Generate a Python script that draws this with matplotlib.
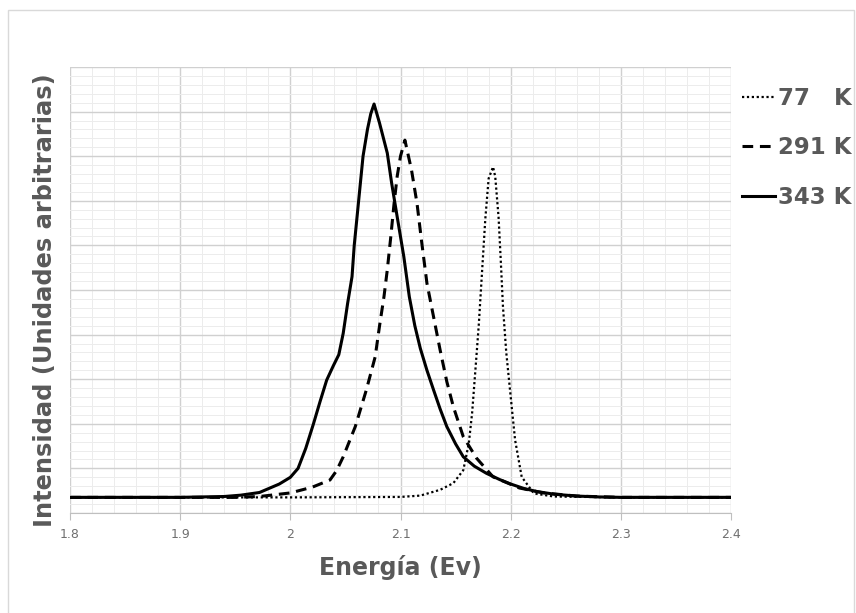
import matplotlib.pyplot as plt
from matplotlib.ticker import MultipleLocator, NullFormatter
from matplotlib.patches import Rectangle

# Espectros (energía en eV, intensidad arbitraria)
e_343 = [1.80, 1.90, 1.94, 1.955, 1.972, 1.99, 2.000, 2.007, 2.014, 2.021, 2.027, 2.033,
         2.039, 2.044, 2.048, 2.052, 2.056, 2.058, 2.062, 2.066, 2.070, 2.073, 2.076,
         2.081, 2.088, 2.092, 2.097, 2.103, 2.108, 2.113, 2.118, 2.124, 2.130, 2.136,
         2.142, 2.150, 2.157, 2.167, 2.178, 2.190, 2.200, 2.212, 2.224, 2.240, 2.260,
         2.280, 2.30, 2.40]
i_343 = [0.35, 0.35, 0.37, 0.40, 0.46, 0.65, 0.80, 1.00, 1.45, 2.00, 2.50, 2.98,
         3.30, 3.55, 4.03, 4.70, 5.30, 6.00, 7.00, 8.00, 8.60, 8.95, 9.17,
         8.74, 8.07, 7.39, 6.64, 5.75, 4.85, 4.20, 3.69, 3.20, 2.76, 2.33,
         1.94, 1.55, 1.26, 1.05, 0.89, 0.75, 0.65, 0.55, 0.48, 0.42, 0.38,
         0.36, 0.35, 0.35]

e_291 = [1.80, 1.95, 1.972, 2.000, 2.020, 2.036, 2.042, 2.048, 2.059, 2.069, 2.077, 2.081,
         2.085, 2.088, 2.091, 2.094, 2.097, 2.100, 2.104, 2.110, 2.115, 2.119, 2.124,
         2.130, 2.136, 2.142, 2.148, 2.157, 2.169, 2.184, 2.208, 2.230, 2.260, 2.30, 2.40]
i_291 = [0.35, 0.35, 0.37, 0.45, 0.58, 0.74, 0.95, 1.26, 1.94, 2.76, 3.50, 4.20,
         4.85, 5.45, 6.15, 6.90, 7.55, 8.00, 8.36, 7.69, 6.94, 6.12, 5.15,
         4.40, 3.65, 2.95, 2.38, 1.71, 1.23, 0.81, 0.56, 0.45, 0.38, 0.35, 0.35]

e_77 = [1.80, 2.00, 2.10, 2.118, 2.136, 2.148, 2.157, 2.162, 2.165, 2.168, 2.171, 2.174,
        2.177, 2.180, 2.184, 2.186, 2.189, 2.191, 2.193, 2.196, 2.200, 2.204, 2.210,
        2.221, 2.239, 2.30, 2.40]
i_77 = [0.35, 0.35, 0.36, 0.39, 0.52, 0.67, 0.96, 1.56, 2.24, 3.21, 4.20, 5.40,
        6.60, 7.50, 7.76, 7.54, 6.64, 5.67, 4.63, 3.60, 2.61, 1.64, 0.81,
        0.44, 0.37, 0.35, 0.35]

labels = ["77   K", "291 K", "343 K"]
gray = "#595959"

fig = plt.figure(figsize=(8.56, 6.13), dpi=100)
ax = fig.add_axes([70 / 856, 1 - 513 / 613, 661 / 856, 446 / 613])

l77, = ax.plot(e_77, i_77, color="black", linestyle=(0, (1, 1.2)), linewidth=1.6)
l291, = ax.plot(e_291, i_291, color="black", linestyle=(0, (3.5, 2.2)), linewidth=2.2)
l343, = ax.plot(e_343, i_343, color="black", linestyle="-", linewidth=2.2)

ax.set_xlim(1.8, 2.4)
ax.set_ylim(0, 10)
ax.xaxis.set_minor_locator(MultipleLocator(0.02))
ax.yaxis.set_major_locator(MultipleLocator(1))
ax.yaxis.set_minor_locator(MultipleLocator(0.2))
ax.yaxis.set_major_formatter(NullFormatter())
ax.set_xticks([1.8, 1.9, 2.0, 2.1, 2.2, 2.3, 2.4])
ax.set_xticklabels(["1.8", "1.9", "2", "2.1", "2.2", "2.3", "2.4"])
ax.tick_params(axis="x", which="major", length=5, color="#bfbfbf", labelsize=9,
               labelcolor="#6f6f6f", pad=6)
ax.tick_params(axis="x", which="minor", length=0)
ax.tick_params(axis="y", which="both", length=0)

ax.grid(True, which="major", color="#d0d0d0", linewidth=1.0)
ax.grid(True, which="minor", color="#ececec", linewidth=0.7)
ax.set_axisbelow(True)
for side in ["top", "right", "left"]:
    ax.spines[side].set_visible(False)
ax.spines["bottom"].set_color("#bfbfbf")

ax.set_xlabel("Energía (Ev)", fontsize=17, fontweight="bold", color=gray, labelpad=10)
ax.set_ylabel("Intensidad (Unidades arbitrarias)", fontsize=17.4, fontweight="bold",
              color=gray)
ax.yaxis.set_label_coords(-13 / 661, (513 - 300) / 446)

leg = fig.legend([l77, l291, l343], labels, loc="upper left",
                 bbox_to_anchor=(726 / 856, 1 - 71 / 613), frameon=False,
                 handlelength=1.45, handletextpad=0.1, labelspacing=1.15,
                 borderpad=0.2, prop={"size": 16.5, "weight": "bold"})
for t in leg.get_texts():
    t.set_color(gray)

fig.patches.append(Rectangle((8 / 856, -0.01), 846 / 856, 1 - 10 / 613 + 0.01,
                             transform=fig.transFigure, fill=False,
                             edgecolor="#d9d9d9", linewidth=1.0))

fig.savefig("out.png", dpi=100)
